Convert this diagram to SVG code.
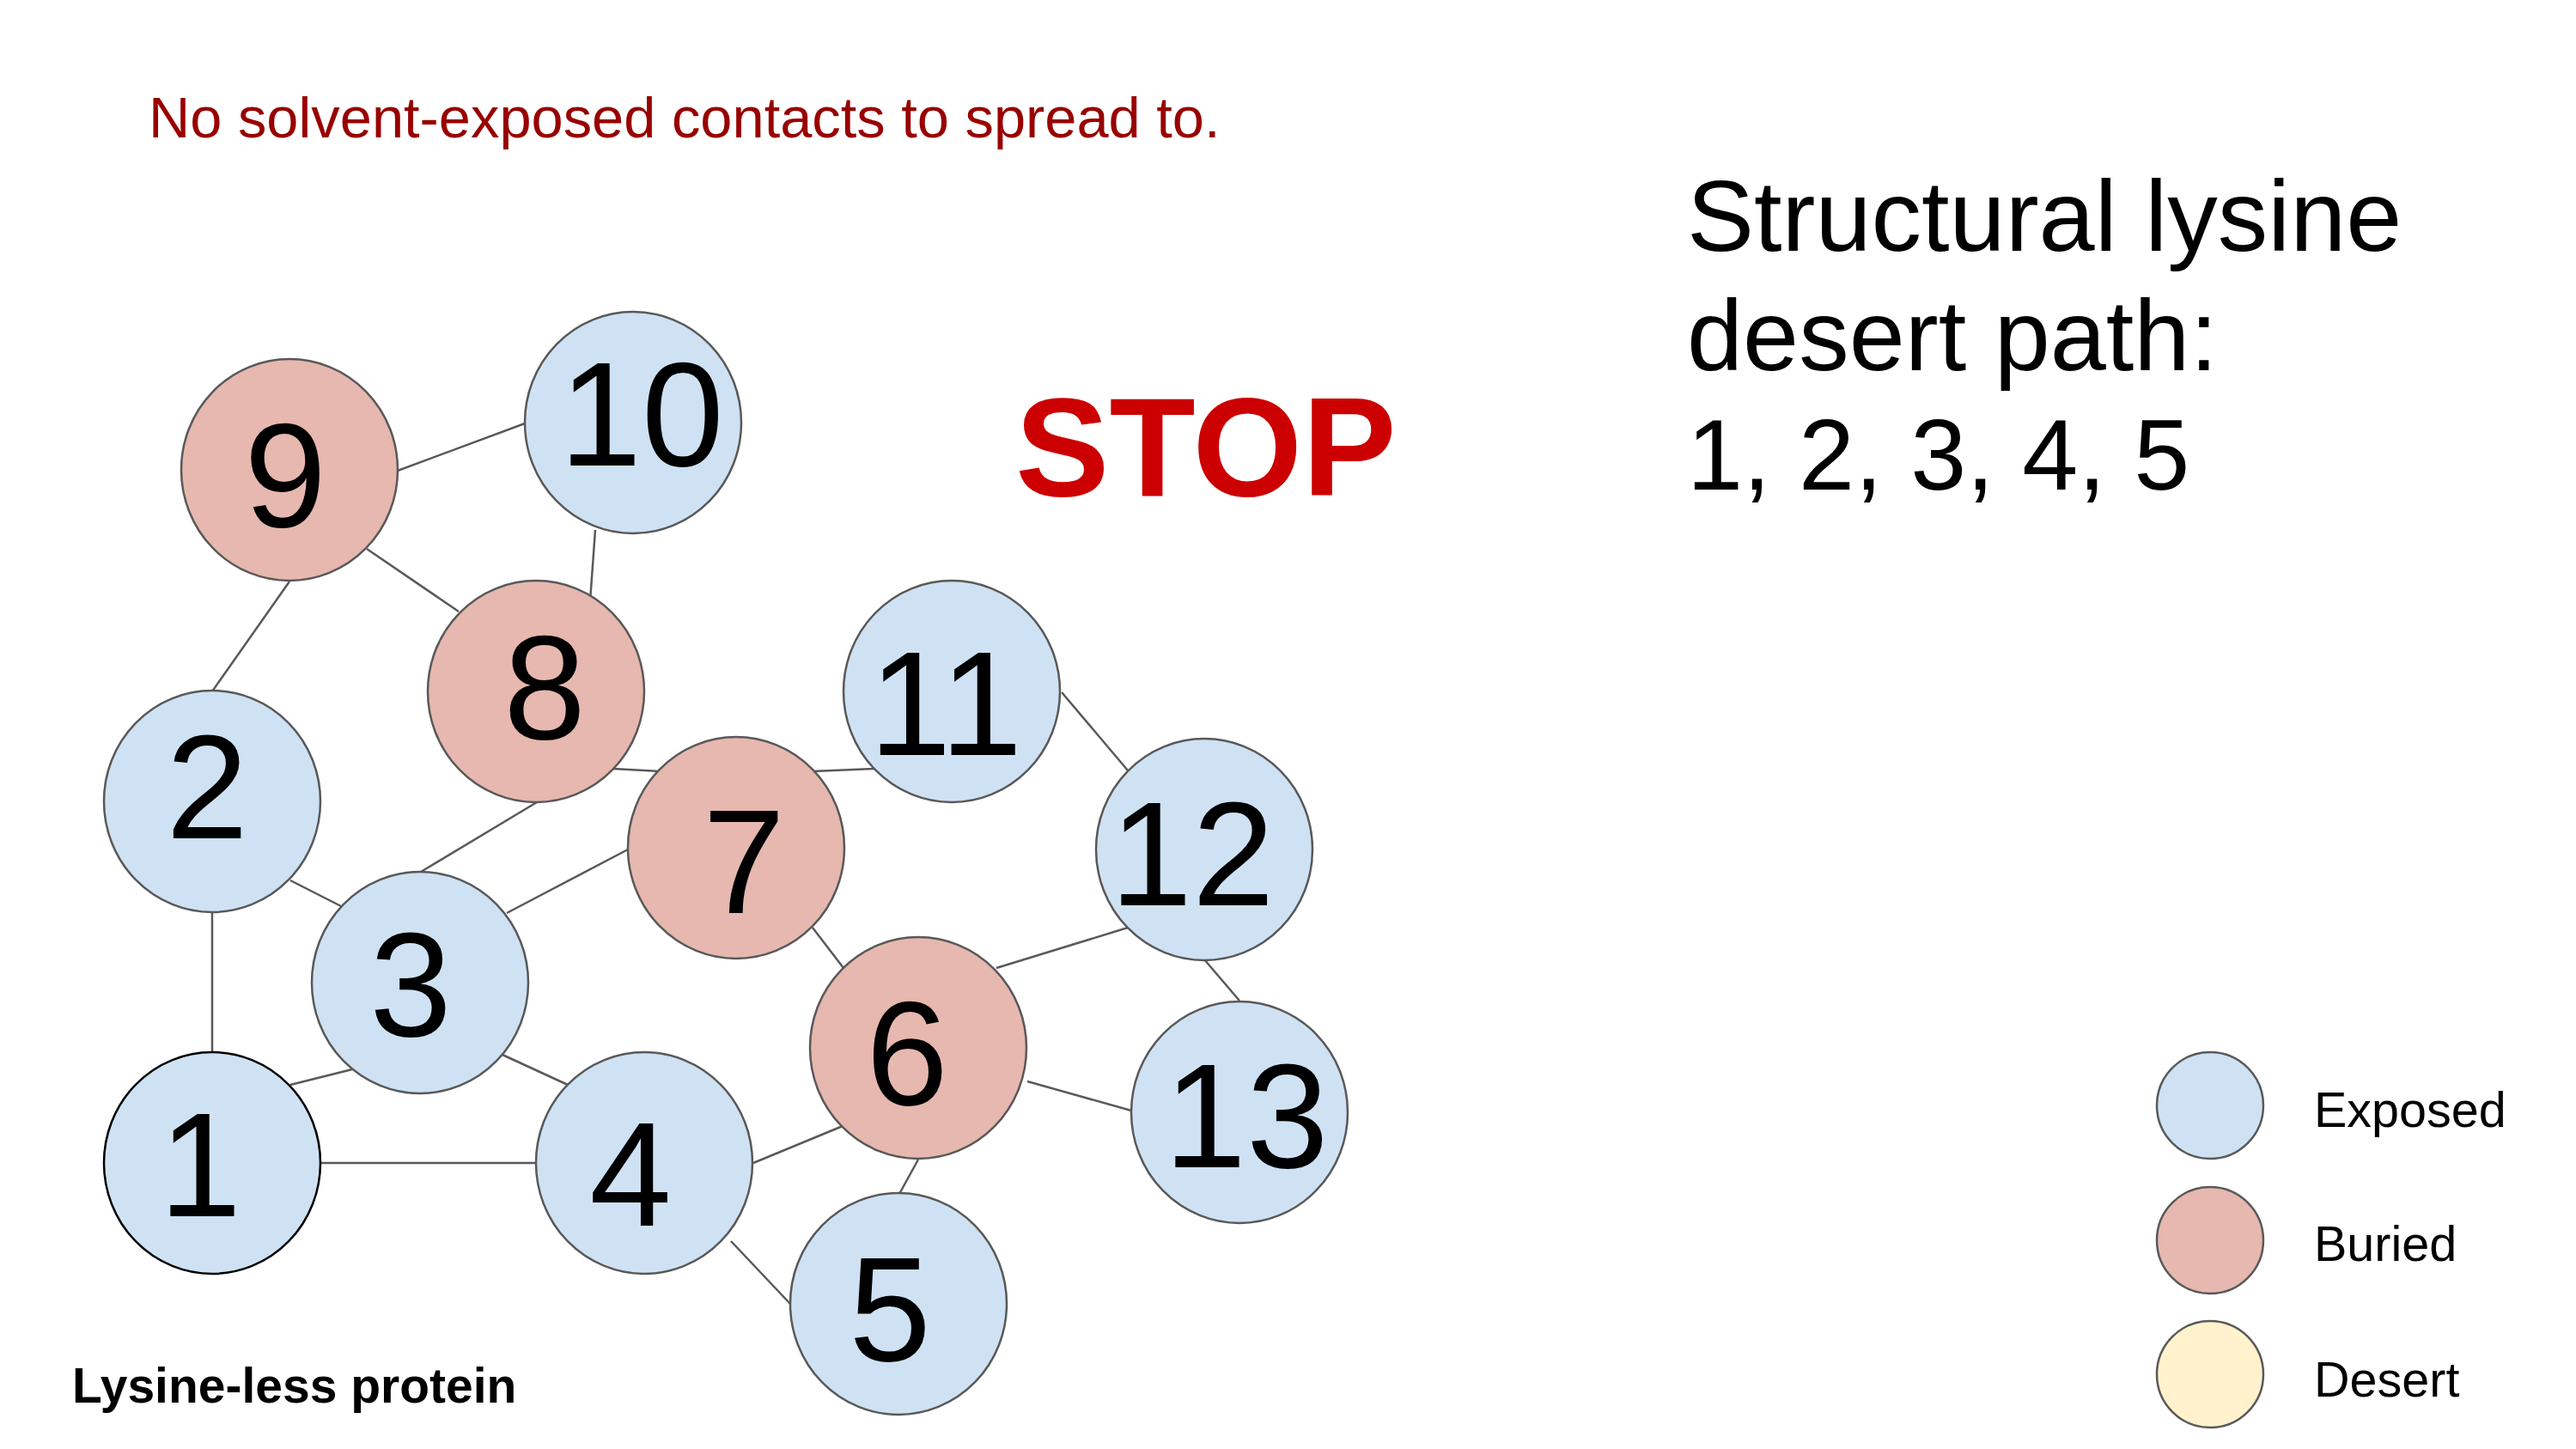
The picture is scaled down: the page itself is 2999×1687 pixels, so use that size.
<svg xmlns="http://www.w3.org/2000/svg" width="2999" height="1687" viewBox="0 0 2999 1687">
<style>
.exp{fill:#cfe2f3;stroke:#595959;stroke-width:2.5}
.bur{fill:#e6b8af;stroke:#595959;stroke-width:2.5}
.des{fill:#fff2cc;stroke:#595959;stroke-width:2.5}
.num{font-family:"Liberation Sans",Arial,sans-serif;font-size:172px;fill:#000;text-anchor:middle}
.edge{stroke:#595959;stroke-width:2.5;fill:none}
.leg{font-family:"Liberation Sans",Arial,sans-serif;font-size:57.5px;fill:#000}
</style>
<rect width="2999" height="1687" fill="#ffffff"/>
<text x="173" y="160" font-family="Liberation Sans, Arial, sans-serif" font-size="66.8" fill="#990000">No solvent-exposed contacts to spread to.</text>
<text x="1182" y="577" font-family="Liberation Sans, Arial, sans-serif" font-size="164" font-weight="bold" fill="#cc0000">STOP</text>
<g font-family="Liberation Sans, Arial, sans-serif" font-size="117" fill="#000">
<text x="1964" y="292">Structural lysine</text>
<text x="1964" y="431">desert path:</text>
<text x="1964" y="570">1, 2, 3, 4, 5</text>
</g>
<text x="84" y="1633" font-family="Liberation Sans, Arial, sans-serif" font-size="57" font-weight="bold" fill="#000">Lysine-less protein</text>
<g id="connectors">
<line class="edge" x1="463" y1="548" x2="611" y2="493"/>
<line class="edge" x1="693" y1="617" x2="687" y2="700"/>
<line class="edge" x1="427" y1="639" x2="534" y2="712"/>
<line class="edge" x1="337" y1="677" x2="247" y2="805"/>
<line class="edge" x1="714" y1="895" x2="767" y2="898"/>
<line class="edge" x1="946" y1="898" x2="1017" y2="895"/>
<line class="edge" x1="625" y1="934" x2="490" y2="1015"/>
<line class="edge" x1="731" y1="989" x2="590" y2="1063"/>
<line class="edge" x1="338" y1="1025" x2="397" y2="1055"/>
<line class="edge" x1="247" y1="1063" x2="247" y2="1225"/>
<line class="edge" x1="338" y1="1263" x2="410" y2="1245"/>
<line class="edge" x1="585" y1="1228" x2="661" y2="1263"/>
<line class="edge" x1="373" y1="1354" x2="625" y2="1354"/>
<line class="edge" x1="877" y1="1354" x2="981" y2="1311"/>
<line class="edge" x1="851" y1="1445" x2="920" y2="1518"/>
<line class="edge" x1="946" y1="1080" x2="982" y2="1127"/>
<line class="edge" x1="1236" y1="806" x2="1313" y2="897"/>
<line class="edge" x1="1160" y1="1127" x2="1313" y2="1080"/>
<line class="edge" x1="1402" y1="1117" x2="1443" y2="1165"/>
<line class="edge" x1="1196" y1="1259" x2="1317" y2="1293"/>
<line class="edge" x1="1069" y1="1350" x2="1047" y2="1390"/>
</g>
<g id="node-9"><ellipse class="bur" cx="337" cy="547" rx="126" ry="129"/><text class="num" x="332" y="613">9</text></g>
<g id="node-10"><ellipse class="exp" cx="737" cy="492" rx="126" ry="129"/><text class="num" x="747" y="542">10</text></g>
<g id="node-8"><ellipse class="bur" cx="624" cy="805" rx="126" ry="129"/><text class="num" x="634" y="860">8</text></g>
<g id="node-2"><ellipse class="exp" cx="247" cy="933" rx="126" ry="129"/><text class="num" x="241" y="976">2</text></g>
<g id="node-11"><ellipse class="exp" cx="1108" cy="805" rx="126" ry="129"/><text class="num" x="1101" y="879">11</text></g>
<g id="node-7"><ellipse class="bur" cx="857" cy="987" rx="126" ry="129"/><text class="num" x="866" y="1063">7</text></g>
<g id="node-12"><ellipse class="exp" cx="1402" cy="989" rx="126" ry="129"/><text class="num" x="1388" y="1054">12</text></g>
<g id="node-3"><ellipse class="exp" cx="489" cy="1144" rx="126" ry="129"/><text class="num" x="478" y="1206">3</text></g>
<g id="node-6"><ellipse class="bur" cx="1069" cy="1220" rx="126" ry="129"/><text class="num" x="1056" y="1286">6</text></g>
<g id="node-13"><ellipse class="exp" cx="1443" cy="1295" rx="126" ry="129"/><text class="num" x="1451" y="1359">13</text></g>
<g id="node-1"><ellipse cx="247" cy="1354" rx="126" ry="129" fill="#cfe2f3" stroke="#000" stroke-width="2.5"/><text class="num" x="233" y="1416">1</text></g>
<g id="node-4"><ellipse class="exp" cx="750" cy="1354" rx="126" ry="129"/><text class="num" x="734" y="1427">4</text></g>
<g id="node-5"><ellipse class="exp" cx="1046" cy="1518" rx="126" ry="129"/><text class="num" x="1036" y="1584">5</text></g>
<g id="legend">
<circle class="exp" cx="2573" cy="1287" r="62"/>
<text class="leg" x="2694" y="1312">Exposed</text>
<circle class="bur" cx="2573" cy="1444" r="62"/>
<text class="leg" x="2694" y="1468">Buried</text>
<circle class="des" cx="2573" cy="1600" r="62"/>
<text class="leg" x="2694" y="1626">Desert</text>
</g>
</svg>
